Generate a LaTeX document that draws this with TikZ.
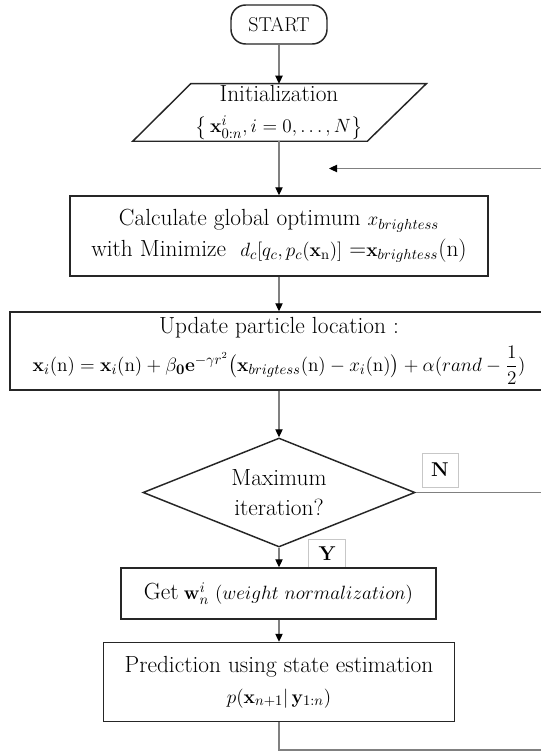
\documentclass[tikz,border=0pt]{standalone}
\usepackage{amsmath}
\usetikzlibrary{shapes.geometric,arrows.meta}
\newcommand{\mymath}[1]{{\fontsize{15}{19}\selectfont$#1$}}
\begin{document}
\begin{tikzpicture}[x=0.75pt,y=-0.75pt,
  box/.style={draw=black!85,line width=1.1pt,fill=white,inner sep=0pt,align=center,
    font=\fontsize{17.5}{23}\selectfont},
  conn/.style={draw=black!50,line width=0.8pt},
  arr/.style={conn,-{Triangle[width=5.5pt,length=6pt,color=black]}},
  lbl/.style={draw=black!22,line width=0.6pt,inner sep=0pt,fill=white,
    font=\bfseries\fontsize{15}{17}\selectfont}
]
\useasboundingbox (0,0) rectangle (541,752);
\fill[white] (0,0) rectangle (541,752);

\node[box,rounded corners=11pt,minimum width=72pt,minimum height=29.25pt,
  font=\fontsize{15}{19}\selectfont] (start) at (279,24.5) {START};

\node[inner sep=0pt,align=center,minimum width=132pt,minimum height=42.75pt,
  font=\fontsize{17.5}{23}\selectfont] (init) at (279,112.5)
  {Initialization\\ \mymath{\bigl\{\,\mathbf{x}^{i}_{0:n}, i=0,\ldots,N\bigr\}}};
\draw[draw=black!85,line width=1.1pt] (init.north west) -- ([xshift=44.25pt]init.north east)
  -- (init.south east) -- ([xshift=-43.5pt]init.south west) -- cycle;

\node[box,minimum width=313.5pt,minimum height=60pt] (calc) at (279,236)
  {Calculate global\ optimum \mymath{x_{brightess}}\\
   with Minimize\ \ \mymath{d_c[q_c,p_c(\mathbf{x}_{\mathrm{n}})]} =\mymath{\mathbf{x}_{brightess}}(n)};

\node[box,minimum width=403.5pt,minimum height=58.5pt] (update) at (279,351)
  {Update particle location :\\[5pt]
   \mymath{\mathbf{x}_i(\mathrm{n})=\mathbf{x}_i(\mathrm{n})+\beta_{\mathbf{0}}\mathbf{e}^{-\gamma r^{2}}\bigl(\mathbf{x}_{brigtess}(\mathrm{n})-x_i(\mathrm{n})\bigr)+\alpha(rand-\dfrac{1}{2})}};

\node[box,shape=diamond,aspect=2.5,minimum width=204pt,minimum height=81.75pt] (dec) at (279,492.5)
  {Maximum\\iteration?};

\node[lbl,minimum width=27pt,minimum height=25.5pt] (nlab) at (440,470) {N};
\node[lbl,minimum width=27.75pt,minimum height=22.5pt] (ylab) at (327,554) {Y};

\node[box,minimum width=236pt,minimum height=38.25pt] (get) at (278.5,593.5)
  {Get\hspace{4pt}\mymath{\mathbf{w}^{i}_{n}\ (weight\ normalization)}};

\node[box,minimum width=263.25pt,minimum height=59.25pt] (pred) at (279,682)
  {Prediction using state estimation\\ \mymath{p(\mathbf{x}_{n+1}|\,\mathbf{y}_{1:n})}};

\coordinate (fbE) at (541,168.5);
\coordinate (fbT) at (329,168.5);
\coordinate (nE) at (541,492.5);
\coordinate (pB) at (279,750);
\coordinate (pE) at (541,750);

\draw[arr] (start) -- (init);
\draw[arr] (init) -- (calc);
\draw[arr] (fbE) -- (fbT);
\draw[arr] (calc) -- (update);
\draw[arr] (update) -- (dec);
\draw[arr] (dec.south) -- (dec.south |- get.north);
\draw[arr] (get.south -| pred.north) -- (pred.north);
\draw[conn] (dec.east) -- (nE);
\draw[conn] (pred.south) -- (pB) -- (pE);
\end{tikzpicture}
\end{document}
